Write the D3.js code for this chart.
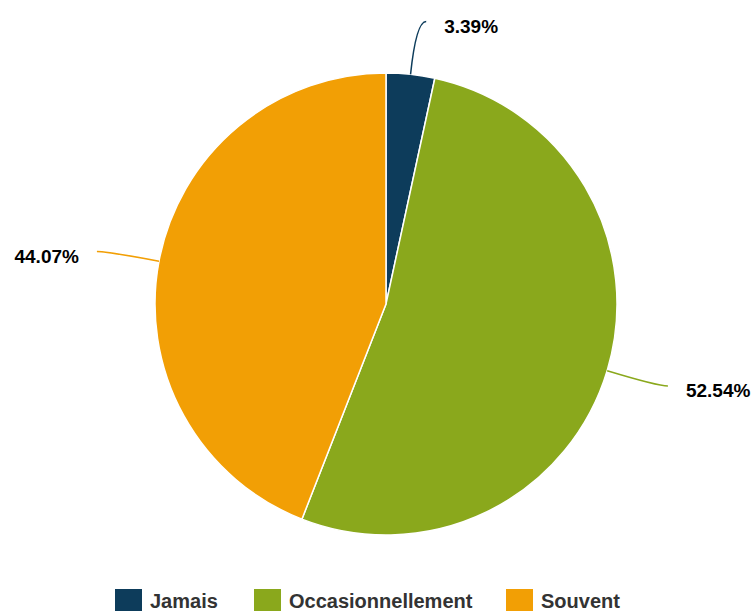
<!DOCTYPE html>
<html><head><meta charset="utf-8">
<script src="https://cdn.jsdelivr.net/npm/d3@7"></script>
<style>html,body{margin:0;padding:0;background:#fff;}svg{display:block;font-family:"Liberation Sans",Arial,sans-serif;}</style>
</head><body>
<svg id="c" width="756" height="612"></svg>
<script>
const categories = ["Jamais", "Occasionnellement", "Souvent"];
const values = [3.39, 52.54, 44.07];
const colors = ["#0d3c5b", "#8aa81c", "#f29f05"];

const W = 756, H = 612, cx = 386, cy = 304, r = 231;
const svg = d3.select("#c");
const data = categories.map((c, i) => ({name: c, value: values[i], color: colors[i]}));
const pie = d3.pie().value(d => d.value).sort(null);
const arcs = pie(data);
const arc = d3.arc().innerRadius(0).outerRadius(r);
const g = svg.append("g").attr("transform", `translate(${cx},${cy})`);
g.selectAll("path.slice").data(arcs).enter().append("path")
  .attr("class", "slice")
  .attr("d", arc).attr("fill", d => d.data.color)
  .attr("stroke", "#fff").attr("stroke-width", 1.5).attr("stroke-linejoin", "round");

const d1 = 53;
arcs.forEach(a => {
  const mid = (a.startAngle + a.endAngle) / 2;
  const sx = Math.sin(mid), sy = -Math.cos(mid);
  const side = sx >= 0 ? 1 : -1;
  const P = [sx * r, sy * r];
  const B = [sx * (r + d1), sy * (r + d1)];
  const E = [B[0] + side * 10, B[1]];
  g.append("path")
    .attr("d", `M${P[0]},${P[1]} Q${B[0]},${B[1]} ${E[0]},${E[1]}`)
    .attr("fill", "none").attr("stroke", a.data.color).attr("stroke-width", 1.5);
  g.append("text")
    .attr("x", E[0] + side * 18).attr("y", E[1] + 5)
    .attr("text-anchor", side > 0 ? "start" : "end")
    .attr("dominant-baseline", "central")
    .attr("font-size", 19).attr("font-weight", "bold").attr("fill", "#000")
    .attr("stroke", "#fff").attr("stroke-width", 2).attr("paint-order", "stroke")
    .text(d3.format(".2f")(a.data.value) + "%");
});

// Legend
const legendX = [115, 254, 506];
const lg = svg.append("g");
data.forEach((d, i) => {
  lg.append("rect").attr("x", legendX[i]).attr("y", 589).attr("width", 27).attr("height", 22).attr("fill", d.color);
  lg.append("text").attr("x", legendX[i] + 35).attr("y", 608)
    .attr("font-size", 20).attr("font-weight", "bold").attr("fill", "#333")
    .text(d.name);
});
</script>
</body></html>
